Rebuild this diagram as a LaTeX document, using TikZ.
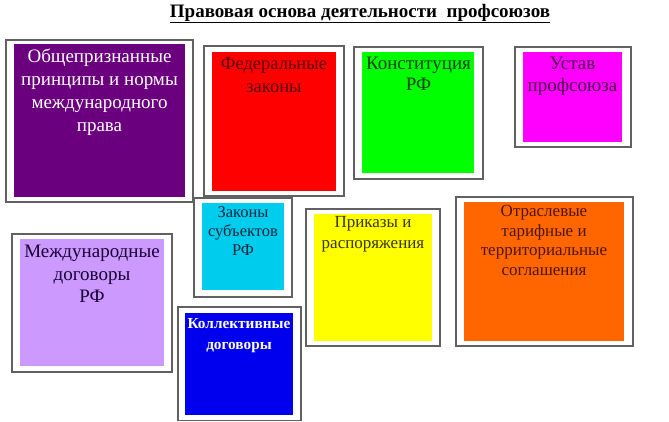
\documentclass[tikz,border=0pt]{standalone}
\usepackage{fontspec}
\setmainfont{Liberation Serif}
\begin{document}
\begin{tikzpicture}[x=1pt,y=-1pt,
  frame/.style={draw=black!62,line width=1.2pt,fill=white},
  lbl/.style={anchor=north,inner sep=0pt,align=center}]
\useasboundingbox (0,0) rectangle (669,421);
\definecolor{cPurple}{HTML}{6B007F}
\definecolor{cRed}{HTML}{FF0000}
\definecolor{cGreen}{HTML}{00FF00}
\definecolor{cMag}{HTML}{FF00FF}
\definecolor{cCyan}{HTML}{00CCEE}
\definecolor{cLav}{HTML}{CC99FF}
\definecolor{cBlue}{HTML}{0000EE}
\definecolor{cYel}{HTML}{FFFF00}
\definecolor{cOra}{HTML}{FF6600}
\definecolor{tRed}{HTML}{5A0000}
\definecolor{tGreen}{HTML}{004000}
\definecolor{tMag}{HTML}{500050}
\definecolor{tCyan}{HTML}{002840}
\definecolor{tLav}{HTML}{1A0035}
\definecolor{tYel}{HTML}{383800}
\definecolor{tOra}{HTML}{501500}

% title
\node[anchor=base,inner sep=0pt,font={\fontsize{19}{22}\selectfont\bfseries}] (title) at (360,17)
  {\underline{Правовая основа деятельности\ \ профсоюзов}};

% 1 purple
\path[frame] (6,40) rectangle (193,202);
\path[fill=cPurple] (14,44) rectangle (185,197);
\node[lbl,text=white,font={\fontsize{19}{23}\selectfont}] (n1) at (99.5,48.5)
  {Общепризнанные\\принципы и нормы\\международного\\права};

% 2 red
\path[frame] (204,46) rectangle (344,196);
\path[fill=cRed] (212,52) rectangle (336,191);
\node[lbl,text=tRed,font={\fontsize{18.5}{23}\selectfont}] (n2) at (274,57)
  {Федеральные\\законы};

% 3 green
\path[frame] (354,47) rectangle (483,179);
\path[fill=cGreen] (362,52) rectangle (474,173);
\node[lbl,text=tGreen,font={\fontsize{19}{21}\selectfont}] (n3) at (418.5,56.5)
  {Конституция\\РФ};

% 4 magenta
\path[frame] (515,47) rectangle (631,147);
\path[fill=cMag] (523,52) rectangle (622,142);
\node[lbl,text=tMag,font={\fontsize{19}{22}\selectfont}] (n4) at (572.5,56.5)
  {Устав\\профсоюза};

% 5 cyan
\path[frame] (194,198) rectangle (292,297);
\path[fill=cCyan] (202,203) rectangle (284,290);
\node[lbl,text=tCyan,font={\fontsize{16.5}{19}\selectfont}] (n5) at (243,206)
  {Законы\\субъектов\\РФ};

% 6 lavender
\path[frame] (12,234) rectangle (172,372);
\path[fill=cLav] (20,239) rectangle (164,366);
\node[lbl,text=tLav,font={\fontsize{19}{22.5}\selectfont}] (n6) at (92,245)
  {Международные\\договоры\\РФ};

% 7 blue
\path[frame] (178,307) rectangle (301,420.5);
\path[fill=cBlue] (185,313) rectangle (293,415);
\node[lbl,text=white,font={\fontsize{15.3}{21}\selectfont\bfseries}] (n7) at (239,318)
  {Коллективные\\договоры};

% 8 yellow
\path[frame] (306,209) rectangle (440,346);
\path[fill=cYel] (314,214) rectangle (432,341);
\node[lbl,text=tYel,font={\fontsize{17}{21}\selectfont}] (n8) at (373,216.5)
  {Приказы и\\распоряжения};

% 9 orange
\path[frame] (456,197) rectangle (633,346);
\path[fill=cOra] (464,202) rectangle (624,341);
\node[lbl,text=tOra,font={\fontsize{17}{19.5}\selectfont}] (n9) at (544,205.5)
  {Отраслевые\\тарифные и\\территориальные\\соглашения};
\end{tikzpicture}
\end{document}
